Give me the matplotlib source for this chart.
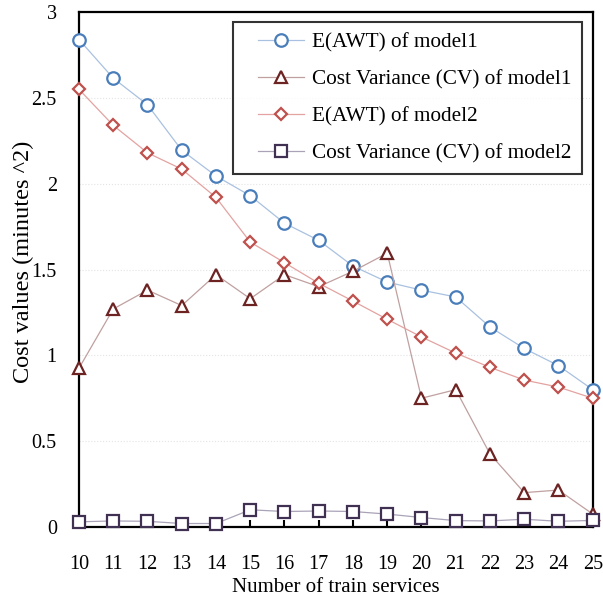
import matplotlib.pyplot as plt
from matplotlib.lines import Line2D
from matplotlib.legend_handler import HandlerLine2D
import numpy as np

plt.rcParams['font.family'] = ['Liberation Serif', 'DejaVu Serif']

services = list(range(10, 26))
awt_model1 = [2.84, 2.615, 2.46, 2.195, 2.045, 1.93, 1.77, 1.67, 1.52, 1.427,
              1.38, 1.34, 1.165, 1.04, 0.94, 0.80]
cv_model1 = [0.925, 1.27, 1.38, 1.29, 1.47, 1.33, 1.47, 1.40, 1.49, 1.595,
             0.75, 0.80, 0.425, 0.20, 0.215, 0.075]
awt_model2 = [2.55, 2.34, 2.18, 2.085, 1.92, 1.66, 1.54, 1.42, 1.316, 1.21,
              1.107, 1.013, 0.93, 0.856, 0.815, 0.75]
cv_model2 = [0.03, 0.035, 0.033, 0.02, 0.02, 0.10, 0.09, 0.093, 0.09, 0.075,
             0.055, 0.037, 0.035, 0.045, 0.033, 0.038]

labels = ["E(AWT) of model1", "Cost Variance (CV) of model1",
          "E(AWT) of model2", "Cost Variance (CV) of model2"]

fig = plt.figure(figsize=(6.03, 6.05), dpi=100)
ax = fig.add_axes([0.131, 0.129, 0.852, 0.851])

styles = [
    (awt_model1, 'o', '#4a7ebb', '#a9c1e0', 9),
    (cv_model1, '^', '#6e2323', '#c0a0a0', 9),
    (awt_model2, 'D', '#c0504d', '#e3a3a1', 6.5),
    (cv_model2, 's', '#403152', '#aaa3b8', 8),
]
for (vals, m, mc, lc, ms), lab in zip(styles, labels):
    ax.plot(services, vals, color=lc, lw=0.9, marker=m, markersize=ms,
            markerfacecolor='white', markeredgecolor=mc, markeredgewidth=1.6,
            label=lab, clip_on=False, zorder=3)

ax.set_xlim(10, 25)
ax.set_ylim(0, 3)
ax.set_xticks(services)
ax.set_yticks(np.arange(0, 3.01, 0.5))
ax.set_yticklabels(['0', '0.5', '1', '1.5', '2', '2.5', '3'])
ax.yaxis.grid(True, color='#e4e4e4', linestyle=':', lw=0.8)
ax.set_axisbelow(True)
ax.tick_params(axis='x', direction='in', length=5, width=1.5, labelsize=14.5, pad=20)
ax.tick_params(axis='y', length=0, labelsize=14.5, pad=16)
for s in ax.spines.values():
    s.set_linewidth(1.6)

ax.set_xlabel("Number of train services", fontsize=15, labelpad=3)
ax.set_ylabel("Cost values (minutes ^2)", fontsize=17.5)
ax.yaxis.set_label_coords(-0.088, 0.5155)

leg = ax.legend(loc='upper right', bbox_to_anchor=(0.9786, 0.9806),
                borderaxespad=0, fontsize=15.3,
                frameon=True, fancybox=False, edgecolor='black',
                handlelength=2.85, labelspacing=0.8, borderpad=0.5,
                handletextpad=0.35,
                handler_map={Line2D: HandlerLine2D(xpad=0.67)})
leg.get_frame().set_linewidth(1.5)

fig.savefig('out.png', dpi=100)
